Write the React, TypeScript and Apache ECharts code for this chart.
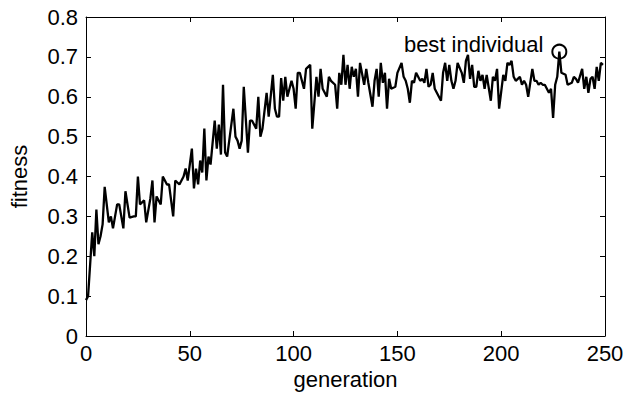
import React, { useEffect, useRef } from "react";
import * as echarts from "echarts";

const generations: number[] = [
  0, 1, 3, 4, 5, 6, 7, 8, 9, 11, 12, 13, 15, 16, 18, 19, 21, 23, 24, 25, 26, 28, 29, 31, 32, 33, 34, 36, 37, 39, 40, 42, 43, 45, 47, 48, 49,
  51, 52, 53, 54, 55, 56, 57, 58, 59, 60, 62, 63, 64, 65, 66, 67, 68, 69, 71, 72, 73, 74, 75, 76, 78, 79, 80, 82, 83, 84, 85, 87, 88, 90, 91, 92,
  93, 94, 95, 96, 97, 99, 100, 101, 102, 103, 105, 106, 108, 109, 111, 112, 113, 114, 116, 117, 118, 120, 121, 122, 123, 124, 125, 126, 127, 128, 129, 130, 131, 132, 134, 135, 136, 138, 139, 140, 141, 142, 143, 144, 145, 146,
  147, 149, 150, 152, 153, 154, 155, 156, 157, 158, 159, 161, 162, 163, 164, 165, 166, 167, 168, 170, 171, 172, 173, 174, 175, 176, 177, 178, 179, 181, 182, 183, 184, 185, 186, 187, 188, 189,
  190, 191, 192, 193, 195, 196, 197, 198, 199, 201, 202, 203, 204, 205, 206, 207, 209, 210, 211, 212, 213, 215, 216, 217, 218, 219, 220, 221, 223, 224, 225, 226, 227, 228, 229, 231, 232, 234, 235, 236, 237, 239, 240, 241, 242, 243, 244, 245, 246, 247, 248, 249,
];

const fitness: number[] = [
  0.09, 0.10, 0.26, 0.20, 0.317, 0.23, 0.25, 0.28, 0.374, 0.285, 0.30, 0.27, 0.33, 0.33, 0.27, 0.363, 0.297, 0.30, 0.30, 0.40, 0.33, 0.34, 0.285, 0.345, 0.39, 0.285, 0.35, 0.33, 0.40, 0.38, 0.38, 0.30, 0.39, 0.38, 0.40, 0.42, 0.39,
  0.47, 0.37, 0.42, 0.38, 0.44, 0.41, 0.52, 0.39, 0.45, 0.43, 0.54, 0.47, 0.53, 0.455, 0.63, 0.46, 0.45, 0.49, 0.57, 0.50, 0.49, 0.47, 0.49, 0.625, 0.46, 0.54, 0.54, 0.52, 0.60, 0.50, 0.52, 0.61, 0.55, 0.655, 0.57, 0.55,
  0.55, 0.647, 0.59, 0.65, 0.60, 0.64, 0.62, 0.57, 0.66, 0.66, 0.62, 0.67, 0.68, 0.52, 0.65, 0.60, 0.67, 0.62, 0.60, 0.65, 0.64, 0.63, 0.57, 0.66, 0.63, 0.705, 0.63, 0.68, 0.62, 0.675, 0.65, 0.67, 0.60, 0.685, 0.63, 0.67, 0.635, 0.575, 0.64, 0.67, 0.60, 0.685, 0.635, 0.66, 0.57, 0.645,
  0.62, 0.625, 0.66, 0.685, 0.65, 0.64, 0.62, 0.585, 0.64, 0.635, 0.66, 0.64, 0.645, 0.635, 0.67, 0.625, 0.63, 0.66, 0.62, 0.60, 0.59, 0.66, 0.685, 0.64, 0.68, 0.64, 0.62, 0.64, 0.685, 0.66, 0.635, 0.69, 0.705, 0.645, 0.68, 0.625, 0.625, 0.665,
  0.64, 0.655, 0.62, 0.655, 0.59, 0.65, 0.64, 0.67, 0.57, 0.655, 0.64, 0.685, 0.68, 0.69, 0.65, 0.64, 0.65, 0.63, 0.64, 0.63, 0.60, 0.67, 0.64, 0.64, 0.63, 0.635, 0.63, 0.63, 0.61, 0.62, 0.547, 0.63, 0.65, 0.713, 0.66, 0.655, 0.63, 0.635, 0.65, 0.645, 0.635, 0.67, 0.62, 0.65, 0.61, 0.645, 0.65, 0.62, 0.675, 0.64, 0.685, 0.68,
];

const xTicks = { min: 0, max: 250, interval: 50 };
const yTicks = { min: 0, max: 0.8, interval: 0.1 };
const annotationText = "best individual";
const xName = "generation";
const yName = "fitness";

const FONT = "'Liberation Sans', Arial, Helvetica, sans-serif";

export default function App() {
  const ref = useRef<HTMLDivElement>(null);

  useEffect(() => {
    if (!ref.current) return;
    const chart = echarts.init(ref.current, undefined, { renderer: "svg" });

    const lineData = generations.map((g, i) => [g, fitness[i]]);
    let bestIdx = 0;
    fitness.forEach((v, i) => {
      if (v > fitness[bestIdx]) bestIdx = i;
    });
    const best = [generations[bestIdx], fitness[bestIdx]];

    const axisLine = { show: true, onZero: false, lineStyle: { color: "#000", width: 1 } };
    const axisTick = { show: true, inside: true, length: 5, lineStyle: { color: "#000", width: 1 } };
    const labelStyle = { color: "#000", fontSize: 22, fontFamily: FONT };

    chart.setOption({
      animation: false,
      backgroundColor: "#fff",
      grid: { left: 86, right: 25, top: 17, bottom: 64, containLabel: false },
      xAxis: [
        {
          type: "value",
          position: "bottom",
          ...xTicks,
          axisLine,
          axisTick,
          splitLine: { show: false },
          axisLabel: { ...labelStyle, margin: 6 },
          name: xName,
          nameLocation: "middle",
          nameGap: 30,
          nameTextStyle: labelStyle,
        },
        {
          type: "value",
          position: "top",
          ...xTicks,
          axisLine,
          axisTick,
          splitLine: { show: false },
          axisLabel: { show: false },
        },
      ],
      yAxis: [
        {
          type: "value",
          position: "left",
          ...yTicks,
          axisLine,
          axisTick,
          splitLine: { show: false },
          axisLabel: {
            ...labelStyle,
            margin: 8,
            formatter: (v: number) => String(Number(v.toFixed(1))),
          },
          name: yName,
          nameLocation: "middle",
          nameGap: 56,
          nameRotate: 90,
          nameTextStyle: labelStyle,
        },
        {
          type: "value",
          position: "right",
          ...yTicks,
          axisLine,
          axisTick,
          splitLine: { show: false },
          axisLabel: { show: false },
        },
      ],
      series: [
        {
          type: "line",
          xAxisIndex: 0,
          yAxisIndex: 0,
          data: lineData,
          showSymbol: false,
          symbol: "none",
          lineStyle: { color: "#000", width: 2.3 },
          z: 2,
        },
        {
          type: "scatter",
          xAxisIndex: 0,
          yAxisIndex: 0,
          data: [best],
          symbol: "circle",
          symbolSize: 14,
          itemStyle: { color: "rgba(0,0,0,0)", borderColor: "#000", borderWidth: 2, opacity: 1 },
          emphasis: { disabled: true },
          label: {
            show: true,
            position: "left",
            distance: 8,
            offset: [0, -7],
            formatter: annotationText,
            fontSize: 22,
            fontFamily: FONT,
            color: "#000",
            textBorderWidth: 0,
            opacity: 1,
          },
          z: 3,
        },
      ],
    });

    return () => chart.dispose();
  }, []);

  return (
    <div
      ref={ref}
      style={{ position: "absolute", left: 0, top: 0, width: 630, height: 400, background: "#fff" }}
    />
  );
}
